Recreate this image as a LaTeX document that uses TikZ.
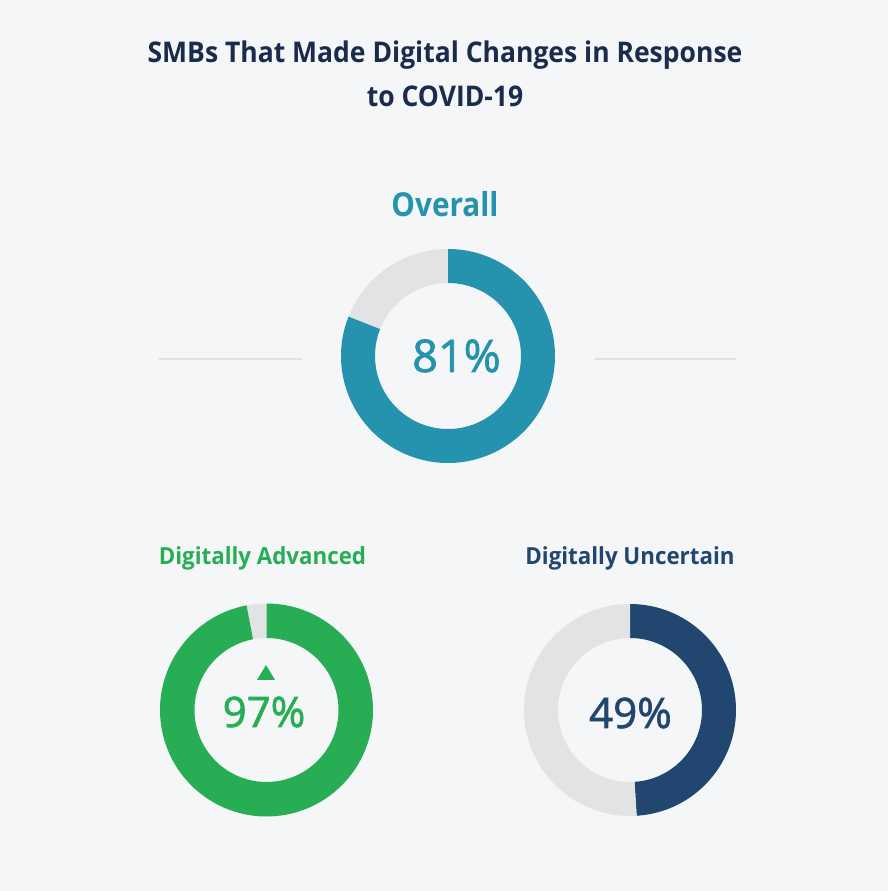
\documentclass[tikz,border=0pt]{standalone}
\usepackage{fontspec}
\setmainfont{Open Sans}
\newfontface\pctfont{Open Sans}[FakeBold=1.6]
\usepackage{graphicx}
\definecolor{bg}{HTML}{F4F6F8}
\definecolor{teal}{HTML}{2693AE}
\definecolor{grn}{HTML}{27AE55}
\definecolor{navy}{HTML}{21466F}
\definecolor{ring}{HTML}{E2E3E5}
\definecolor{titlec}{HTML}{1A2B4C}
\definecolor{rule}{HTML}{E0E1E3}
\newcommand{\donutseg}[6]{% center, start, end, rout, rin, color
  \fill[#6] ($(#1)+(#2:#4)$) arc[start angle=#2, end angle=#3, radius=#4]
    -- ($(#1)+(#3:#5)$) arc[start angle=#3, end angle=#2, radius=#5] -- cycle;}
\usetikzlibrary{calc}
\tikzset{
  titletext/.style={text=titlec, font=\fontsize{28.5}{30}\selectfont\bfseries, anchor=base, inner sep=0pt},
  headtext/.style={anchor=base, inner sep=0pt, font=\fontsize{33}{36}\selectfont\bfseries},
  subtext/.style={anchor=base, inner sep=0pt, font=\fontsize{23.5}{26}\selectfont\bfseries},
  pcttext/.style={anchor=base, inner sep=0pt},
  sideline/.style={draw=rule, line width=2.6pt},
}
\begin{document}
\begin{tikzpicture}[x=1pt,y=1pt]
\fill[bg] (0,0) rectangle (888,891);
\useasboundingbox (0,0) rectangle (888,891);
% title
\node[titletext] (t1) at (445,828) {\scalebox{0.93}[1]{SMBs That Made Digital Changes in Response}};
\node[titletext] (t2) at (445,784) {\scalebox{0.93}[1]{to COVID-19}};
% overall
\node[headtext, text=teal] (ov) at (445,674) {\scalebox{0.9}[1]{Overall}};
\coordinate (c1) at (448,535);
\donutseg{c1}{90}{158.4}{107}{73}{ring}
\donutseg{c1}{158.4}{450}{107}{73}{teal}
\node[pcttext, text=teal, font=\fontsize{45}{48}\pctfont] (p1) at (456.5,519) {81\%};
\coordinate (l1a) at (159,532); \coordinate (l1b) at (302,532);
\coordinate (l2a) at (595,532); \coordinate (l2b) at (736,532);
\draw[sideline] (l1a) -- (l1b);
\draw[sideline] (l2a) -- (l2b);
% digitally advanced
\node[subtext, text=grn] (h2) at (262.5,326) {\scalebox{0.95}[1]{Digitally Advanced}};
\coordinate (c2) at (266.5,181);
\donutseg{c2}{90}{100.8}{106.5}{72}{ring}
\donutseg{c2}{100.8}{450}{106.5}{72}{grn}
\coordinate (tri) at (266,226);
\fill[grn] (tri) -- ++(-9,-15) -- ++(18,0) -- cycle;
\node[pcttext, text=grn, font=\fontsize{42}{45}\pctfont] (p2) at (264,164) {97\%};
% digitally uncertain
\node[subtext, text=navy] (h3) at (630,326) {\scalebox{0.95}[1]{Digitally Uncertain}};
\coordinate (c3) at (630,181);
\donutseg{c3}{-86.4}{90}{106}{72}{navy}
\donutseg{c3}{90}{273.6}{106}{72}{ring}
\node[pcttext, text=navy, font=\fontsize{42}{45}\pctfont] (p3) at (630.5,163) {49\%};
\end{tikzpicture}
\end{document}
